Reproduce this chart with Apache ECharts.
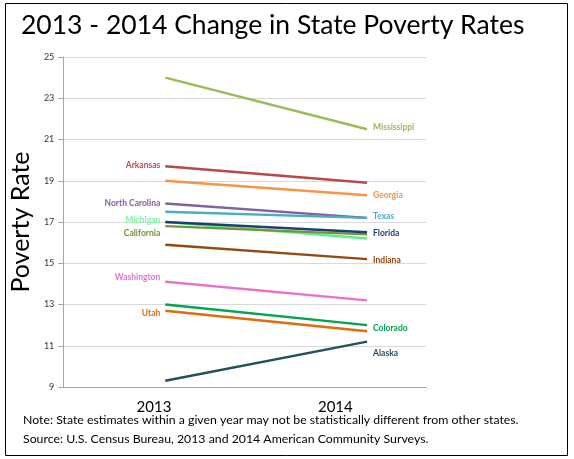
<!DOCTYPE html>
<html><head><meta charset="utf-8">
<script src="https://cdn.jsdelivr.net/npm/echarts@6/dist/echarts.min.js"></script>
<style>html,body{margin:0;padding:0;background:#fff}#c{width:574px;height:459px}</style>
</head><body><div id="c"></div>
<script>
const years = ['2013', '2014'];
const states = ['Mississippi','Arkansas','Georgia','North Carolina','Texas','Michigan','California','Florida','Indiana','Washington','Colorado','Utah','Alaska'];
const rate2013 = [24.0, 19.7, 19.0, 17.9, 17.5, 17.0, 16.8, 17.0, 15.9, 14.1, 13.0, 12.7, 9.3];
const rate2014 = [21.5, 18.9, 18.3, 17.2, 17.2, 16.2, 16.4, 16.5, 15.2, 13.2, 12.0, 11.7, 11.2];
const yTicks = [9, 11, 13, 15, 17, 19, 21, 23, 25];

const colors = ['#9BBB59','#B9484A','#F79646','#7F62A0','#4BACC6','#5CF08A','#76923C','#1F3F6E','#944A10','#E673C8','#00A651','#E36C0A','#23505F'];
const labelColors = ['#9BBB59','#B9484A','#F79646','#7F62A0','#4BACC6','#7CF5A0','#76923C','#1F3F6E','#944A10','#E673C8','#00A651','#E36C0A','#23505F'];
// label placement: side (0 = at 2013, left; 1 = at 2014, right), vertical nudge
const labelSide = [1,0,1,0,1,0,0,1,1,0,1,0,1];
const labelNudge = [-2,-1,0,0,-2,-2,7,1,1,-5,3,3,12];

const chart = echarts.init(document.getElementById('c'));
const FONT = 'Lato, "Open Sans", sans-serif';

const series = states.map((s, i) => {
  const side = labelSide[i];
  const pts = [[0, rate2013[i]], [1, rate2014[i]]].map((p, j) => {
    const item = { value: p };
    if (j === side) {
      item.label = {
        show: true,
        formatter: s,
        position: side === 0 ? 'left' : 'right',
        distance: side === 0 ? 5 : 6,
        offset: [0, labelNudge[i]],
        color: labelColors[i],
        fontFamily: FONT,
        fontWeight: 'bold',
        fontSize: 8.5
      };
    }
    return item;
  });
  return {
    name: s,
    type: 'line',
    xAxisIndex: 1,
    data: pts,
    showSymbol: true,
    symbol: 'circle',
    symbolSize: 0.01,
    lineStyle: { color: colors[i], width: 2.5 },
    itemStyle: { color: colors[i] },
    label: { show: false },
    emphasis: { disabled: true },
    silent: true,
    animation: false,
    z: 3
  };
});

chart.setOption({
  animation: false,
  title: {
    text: '2013 - 2014 Change in State Poverty Rates',
    left: 16, top: 7,
    textStyle: { fontFamily: FONT, fontWeight: 'normal', fontSize: 26.5, color: '#000' }
  },
  grid: { left: 63, right: 148, top: 57, bottom: 72 },
  xAxis: [
    {
      type: 'category', data: years, boundaryGap: true,
      axisLine: { lineStyle: { color: '#A6A6A6', width: 1 } },
      axisTick: { show: false },
      axisLabel: { margin: 13, fontFamily: FONT, fontSize: 15, color: '#000' }
    },
    {
      type: 'value', min: -0.505, max: 1.292, show: false
    }
  ],
  yAxis: {
    type: 'value', min: 9, max: 25, interval: 2,
    name: 'Poverty Rate', nameLocation: 'middle', nameGap: 24,
    nameTextStyle: { fontFamily: FONT, fontSize: 25, color: '#000' },
    axisLine: { show: true, onZero: false, lineStyle: { color: '#A6A6A6' } },
    axisTick: { show: true, length: 5, lineStyle: { color: '#A6A6A6' } },
    axisLabel: { margin: 9, fontFamily: FONT, fontSize: 9, color: '#333',
      formatter: v => yTicks.includes(v) ? String(v) : '' },
    splitLine: { lineStyle: { color: '#D9D9D9', width: 1 } }
  },
  graphic: [
    { type: 'rect', shape: { x: 5.5, y: 3.5, width: 562, height: 452 },
      style: { fill: 'none', stroke: '#000', lineWidth: 1 }, silent: true, z: 10 },
    { type: 'text', left: 23, top: 414,
      style: { text: 'Note: State estimates within a given year may not be statistically different from other states.',
        fontFamily: FONT, fontSize: 12.3, fill: '#000' } },
    { type: 'text', left: 23, top: 433,
      style: { text: 'Source: U.S. Census Bureau, 2013 and 2014 American Community Surveys.',
        fontFamily: FONT, fontSize: 12.3, fill: '#000' } }
  ],
  series: series
});
</script></body></html>
